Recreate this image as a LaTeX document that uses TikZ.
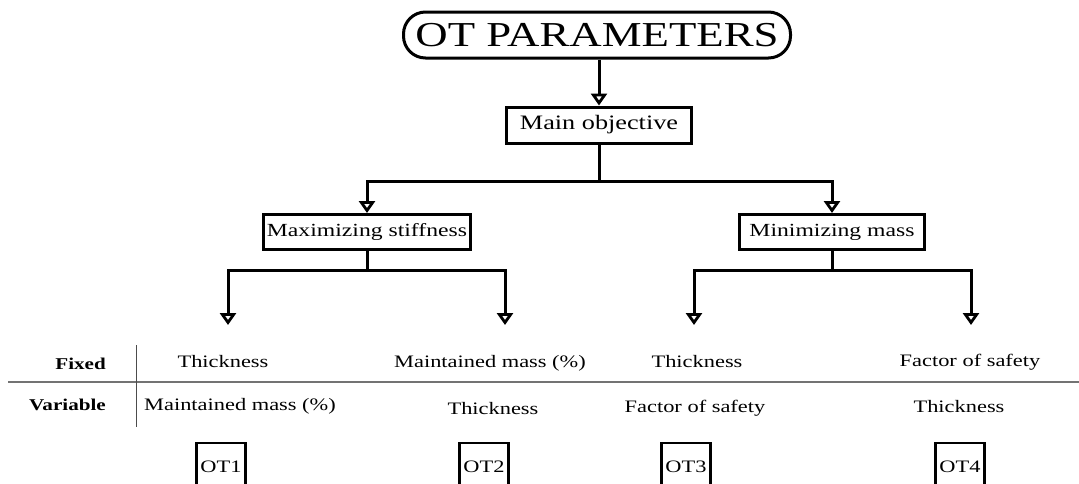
\documentclass[tikz,border=0pt]{standalone}
\usepackage{fontspec}
\setmainfont{Liberation Serif}[FakeStretch=1.28]
\usetikzlibrary{arrows.meta}
\begin{document}
\begin{tikzpicture}[x=1pt,y=-1pt,
  box/.style={draw,line width=3pt,inner sep=0pt,fill=white},
  conn/.style={line width=3pt},
  arr/.style={conn,-{Triangle[open,width=16pt,length=12pt,line width=2.8pt]}},
  cell/.style={anchor=base,inner sep=0pt,font=\fontsize{17.5}{20}\selectfont},
  head/.style={anchor=base east,inner sep=0pt,font=\fontsize{16.5}{19}\selectfont\bfseries},
  otbox/.style={draw,line width=2.8pt,inner sep=0pt,minimum width=49pt,minimum height=48pt,font=\fontsize{17.5}{20}\selectfont}]
\useasboundingbox (0,0) rectangle (1079,483);
\fill[white] (0,0) rectangle (1079,483);
% top
\node[box,rounded corners=22pt,minimum width=387pt,minimum height=46pt,font=\fontsize{35}{40}\selectfont] (top) at (597,35) {OT PARAMETERS};
\node[box,minimum width=185pt,minimum height=36pt,font=\fontsize{20.5}{24}\selectfont] (main) at (599,125) {Main objective};
\node[box,minimum width=207pt,minimum height=35pt,font=\fontsize{18.5}{22}\selectfont] (maxs) at (367,232) {Maximizing stiffness};
\node[box,minimum width=185pt,minimum height=35pt,font=\fontsize{18.5}{22}\selectfont] (mins) at (832,232) {Minimizing mass};
% branch targets
\coordinate (t1) at (228,325);
\coordinate (t2) at (505,325);
\coordinate (t3) at (694,325);
\coordinate (t4) at (971,325);
% connectors
\draw[arr] (top.south -| main.north) -- (main.north);
\draw[arr] (main.south) -- ++(0,37) -| (maxs.north);
\draw[arr] (main.south) ++(0,37) -| (mins.north);
\draw[arr] (maxs.south) -- ++(0,19) -| (t1);
\draw[arr] (maxs.south) ++(0,19) -| (t2);
\draw[arr] (mins.south) -- ++(0,19) -| (t3);
\draw[arr] (mins.south) ++(0,19) -| (t4);
% table
\coordinate (hl) at (8,382);
\coordinate (hr) at (1079,382);
\coordinate (vt) at (136,345);
\coordinate (vb) at (136,427);
\draw[line width=2pt,black!55] (hl) -- (hr);
\draw[line width=1pt,black!70] (vt) -- (vb);
\node[head] (hf) at (106,369) {Fixed};
\node[head] (hv) at (106,410) {Variable};
\node[cell] (f1) at (223,367) {Thickness};
\node[cell] (f2) at (490,367) {Maintained mass (\%)};
\node[cell] (f3) at (697,367) {Thickness};
\node[cell] (f4) at (970,366) {Factor of safety};
\node[cell] (v1) at (240,410) {Maintained mass (\%)};
\node[cell] (v2) at (493,414) {Thickness};
\node[cell] (v3) at (695,412) {Factor of safety};
\node[cell] (v4) at (959,412) {Thickness};
\node[otbox] (o1) at (221,467) {OT1};
\node[otbox] (o2) at (484,467) {OT2};
\node[otbox] (o3) at (686,467) {OT3};
\node[otbox] (o4) at (960,467) {OT4};
\end{tikzpicture}
\end{document}
